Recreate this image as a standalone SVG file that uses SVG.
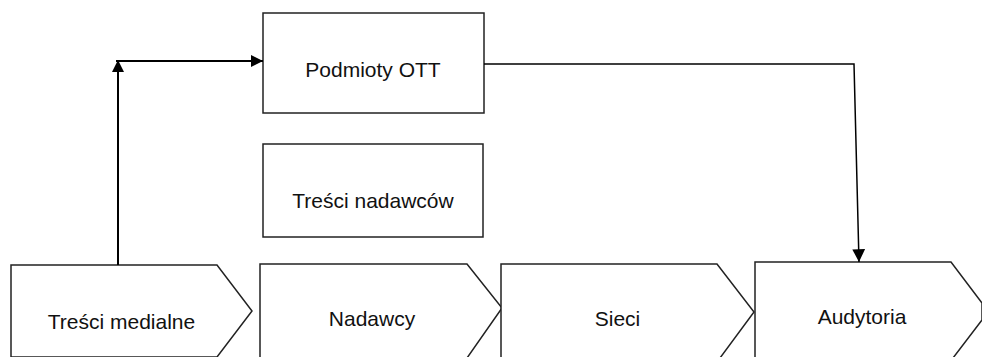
<svg xmlns="http://www.w3.org/2000/svg" width="982" height="357" viewBox="0 0 982 357">
<defs>
<marker id="ah" viewBox="0 0 10 10" refX="10" refY="5" markerWidth="6" markerHeight="6" markerUnits="strokeWidth" orient="auto">
<path d="M0,0 L10,5 L0,10 z" fill="#000"/>
</marker>
<marker id="ah2" viewBox="0 0 10 10" refX="10" refY="5" markerWidth="8.5" markerHeight="8.5" markerUnits="strokeWidth" orient="auto">
<path d="M0,0 L10,5 L0,10 z" fill="#000"/>
</marker>
</defs>
<style>
.box{fill:#fff;stroke:#222;stroke-width:1.5}
.lbl{font-family:"Liberation Sans",Arial,sans-serif;font-size:21px;fill:#111;text-anchor:middle}
.con{fill:none;stroke:#000}
</style>
<rect width="982" height="357" fill="#fff"/>
<g id="podmioty-ott">
<rect class="box" x="263" y="13" width="221" height="100"/>
<text class="lbl" x="373" y="77">Podmioty OTT</text>
</g>
<g id="tresci-nadawcow">
<rect class="box" x="263" y="144" width="220" height="93"/>
<text class="lbl" x="373" y="208">Treści nadawców</text>
</g>
<g id="tresci-medialne">
<path class="box" d="M11,265 L217,265 L252,311 L217,357 L11,357 Z"/>
<text class="lbl" x="121.5" y="329">Treści medialne</text>
</g>
<g id="nadawcy">
<path class="box" d="M260,264 L467,264 L502,308 L467,358 L260,358 Z"/>
<text class="lbl" x="372" y="326">Nadawcy</text>
</g>
<g id="sieci">
<path class="box" d="M501,264 L717,264 L754,312 L720,358 L501,358 Z"/>
<text class="lbl" x="617.5" y="326">Sieci</text>
</g>
<g id="audytoria">
<path class="box" d="M755,262 L951,262 L982,303 L982,320 L953,358 L755,358 Z"/>
<text class="lbl" x="862" y="324">Audytoria</text>
</g>
<g id="connectors">
<path class="con" stroke-width="2" d="M118,265 L118,60" marker-end="url(#ah)"/>
<path class="con" stroke-width="2" d="M116,61 L263,61" marker-end="url(#ah)"/>
<path class="con" stroke-width="1.5" d="M484,64 L854,64 L859,262" marker-end="url(#ah2)"/>
</g>
</svg>
